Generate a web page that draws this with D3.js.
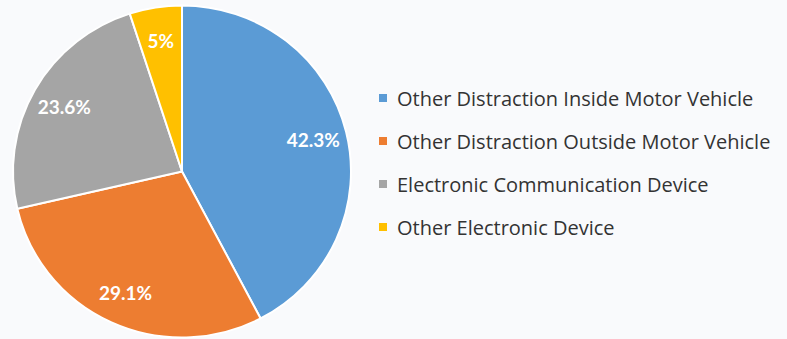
<!DOCTYPE html>
<html>
<head>
<meta charset="utf-8">
<script src="https://cdn.jsdelivr.net/npm/d3@7"></script>
<style>
  html, body { margin: 0; padding: 0; background: #f9fafc; }
  svg { display: block; }
</style>
</head>
<body>
<svg id="chart" width="787" height="339"></svg>
<script>
const categories = [
  "Other Distraction Inside Motor Vehicle",
  "Other Distraction Outside Motor Vehicle",
  "Electronic Communication Device",
  "Other Electronic Device"
];
const values = [42.3, 29.1, 23.6, 5];
const labels = ["42.3%", "29.1%", "23.6%", "5%"];
const colors = ["#5b9bd5", "#ed7d31", "#a5a5a5", "#ffc000"];

const svg = d3.select("#chart");
svg.append("rect").attr("width", 787).attr("height", 339).attr("fill", "#f9fafc");

const cx = 182, cy = 171.5, r = 169, sy = 166 / 169;

const pie = d3.pie().sort(null).value(d => d)(values);
const arc = d3.arc().innerRadius(0).outerRadius(r);
const labelArc = d3.arc().innerRadius(r * 0.8).outerRadius(r * 0.8);

const g = svg.append("g").attr("transform", `translate(${cx},${cy}) scale(1,${sy})`);
g.selectAll("path").data(pie).enter().append("path")
  .attr("d", arc)
  .attr("fill", (d, i) => colors[i])
  .attr("stroke", "#ffffff")
  .attr("stroke-width", 2)
  .attr("stroke-linejoin", "round");

const lg = svg.append("g").attr("transform", `translate(${cx},${cy})`);
lg.selectAll("text").data(pie).enter().append("text")
  .attr("x", d => labelArc.centroid(d)[0])
  .attr("y", d => labelArc.centroid(d)[1] * sy)
  .attr("text-anchor", "middle")
  .attr("dominant-baseline", "central")
  .attr("fill", "#ffffff")
  .attr("font-family", "Lato, 'Open Sans', sans-serif")
  .attr("font-weight", "bold")
  .attr("font-size", 19)
  .text((d, i) => labels[i]);

const legendY = d3.scalePoint().domain(categories).range([98, 227]);
const leg = svg.append("g");
const items = leg.selectAll("g").data(categories).enter().append("g")
  .attr("transform", d => `translate(379,${legendY(d)})`);
items.append("rect").attr("x", 0).attr("y", -4).attr("width", 8).attr("height", 8)
  .attr("fill", (d, i) => colors[i]);
items.append("text").attr("x", 18).attr("y", 0)
  .attr("dominant-baseline", "central")
  .attr("fill", "#333333")
  .attr("font-family", "'Open Sans', sans-serif")
  .attr("font-size", 20)
  .text(d => d);
</script>
</body>
</html>
